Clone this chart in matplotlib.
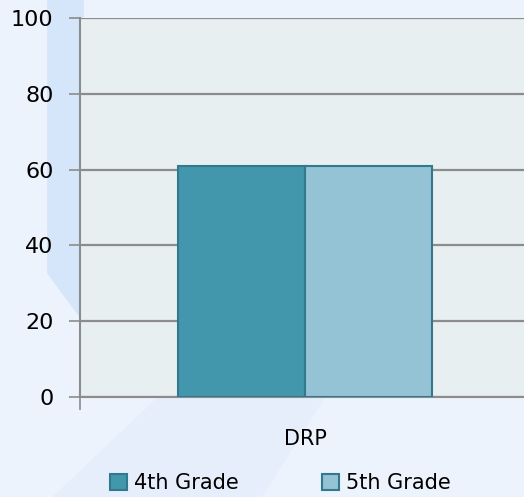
import matplotlib.pyplot as plt
from matplotlib.patches import Polygon

# data
categories = ["DRP"]
series = ["4th Grade", "5th Grade"]
values = [61, 61]
colors = ["#4397ad", "#93c3d4"]
yticks = [0, 20, 40, 60, 80, 100]

fig = plt.figure(figsize=(5.24, 4.97), dpi=100)
fig.patch.set_facecolor("#edf3fc")

# faint background shapes
fig.patches.append(Polygon([[0.09, 1.0], [0.16, 1.0], [0.16, 0.35], [0.09, 0.45]],
                           closed=True, transform=fig.transFigure,
                           facecolor="#d5e5fa", edgecolor="none", zorder=-1))
fig.patches.append(Polygon([[0.1, 0.0], [0.5, 0.0], [0.62, 0.2], [0.3, 0.2]],
                           closed=True, transform=fig.transFigure,
                           facecolor="#e6eefb", edgecolor="none", zorder=-1))

ax = fig.add_axes([80 / 524, 100 / 497, 450 / 524, 379 / 497])
ax.set_facecolor("#e8eff1")

w = 0.2833
for i, (name, v, c) in enumerate(zip(series, values, colors)):
    ax.bar((i - 0.5) * w, v, width=w, color=c, edgecolor="#33798d",
           linewidth=1.5, label=name, zorder=3)

ax.set_xlim(-0.5, 0.5)
ax.set_ylim(0, 100)
ax.set_yticks(yticks)
ax.yaxis.grid(True, color="#8c8c8c", linewidth=1.6, zorder=0)
ax.set_xticks([0])
ax.set_xticklabels(categories)
ax.tick_params(axis="x", length=0, pad=23, labelsize=15)
ax.tick_params(axis="y", length=8, width=1.2, color="#8c8c8c", labelsize=16, pad=11)
ax.set_xticks([-0.5], minor=True)
ax.tick_params(axis="x", which="minor", length=9, width=1.2, color="#8c8c8c", direction="out")

for s in ["top", "right"]:
    ax.spines[s].set_visible(False)
ax.spines["left"].set_color("#8c8c8c")
ax.spines["left"].set_linewidth(1.5)
ax.spines["bottom"].set_color("#8c8c8c")
ax.spines["bottom"].set_linewidth(1.5)

fig.legend(loc="center", bbox_to_anchor=(0.535, 0.028), ncol=2, frameon=False,
           fontsize=15, handlelength=0.8, handleheight=0.8, handletextpad=0.35,
           columnspacing=4.0)

fig.savefig("out.png", dpi=100, facecolor=fig.get_facecolor())
